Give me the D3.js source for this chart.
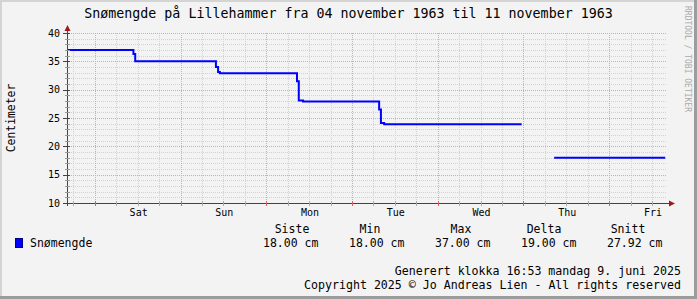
<!DOCTYPE html>
<html>
<head>
<meta charset="utf-8">
<script src="https://cdn.jsdelivr.net/npm/d3@7"></script>
<style>
  body { margin: 0; background: #f3f3f3; }
  svg text { font-family: "DejaVu Sans Mono", monospace; fill: #000; }
</style>
</head>
<body>
<svg id="chart" width="697" height="299"></svg>
<script>
// data (hours since start of graph, cm)
var hours  = [0, 18.6, 19.1, 41.7, 42.3, 42.8, 64.4, 64.9, 66.1, 87.4, 87.9, 88.8, 127.3, 127.4, 136.4, 167.5]
var snow   = [37, 36.3, 35, 34, 33.1, 32.9, 31.5, 28.1, 27.9, 26.5, 24.1, 23.9, 23.9, null, 18, 18]
var dayLabels = ["Sat", "Sun", "Mon", "Tue", "Wed", "Thu", "Fri"]
var firstMidnight = 7.78   // hours after graph start
var yTicks = [10, 15, 20, 25, 30, 35, 40]
var statNames  = ["Siste", "Min", "Max", "Delta", "Snitt"]
var statValues = ["18.00 cm", "18.00 cm", "37.00 cm", "19.00 cm", "27.92 cm"]

var svg = d3.select("#chart")
var W = 697, H = 299
var x = d3.scaleLinear().domain([0, 168]).range([67, 667])
var y = d3.scaleLinear().domain([10, 40]).range([203, 33])

// frame
svg.append("rect").attr("x", 0).attr("y", 0).attr("width", W).attr("height", H).attr("fill", "#f3f3f3")
svg.append("path").attr("d", "M1,299 V1 H697").attr("fill", "none").attr("stroke", "#d4d4d4").attr("stroke-width", 2)
svg.append("path").attr("d", "M0,297.5 H695.5 V0").attr("fill", "none").attr("stroke", "#9c9c9c").attr("stroke-width", 3)

var grid = svg.append("g").attr("shape-rendering", "crispEdges")

// minor horizontal grid every cm
d3.range(11, 40).filter(function(v) { return v % 5 != 0 }).forEach(function(v) {
    grid.append("line").attr("x1", 67).attr("x2", 667)
        .attr("y1", Math.round(y(v)) + 0.5).attr("y2", Math.round(y(v)) + 0.5)
        .attr("stroke", "#d2d2d2").attr("stroke-dasharray", "1,1")
})
// minor vertical grid every 6 hours
var minorHours = d3.range(firstMidnight % 6, 168, 6)
minorHours.forEach(function(h) {
    if (Math.abs((h - firstMidnight) % 24) < 0.01) return
    grid.append("line").attr("y1", 33).attr("y2", 203)
        .attr("x1", Math.round(x(h)) + 0.5).attr("x2", Math.round(x(h)) + 0.5)
        .attr("stroke", "#d2d2d2").attr("stroke-dasharray", "1,1")
})
// major horizontal grid
yTicks.slice(1).forEach(function(v) {
    grid.append("line").attr("x1", 67).attr("x2", 667)
        .attr("y1", Math.round(y(v)) + 0.5).attr("y2", Math.round(y(v)) + 0.5)
        .attr("stroke", "#eda0a0").attr("stroke-dasharray", "1,1")
})
// major vertical grid at midnight
var midnights = d3.range(firstMidnight, 168, 24)
midnights.forEach(function(h) {
    grid.append("line").attr("y1", 33).attr("y2", 203)
        .attr("x1", Math.round(x(h)) + 0.5).attr("x2", Math.round(x(h)) + 0.5)
        .attr("stroke", "#eda0a0").attr("stroke-dasharray", "1,1")
})

// data line
var pts = hours.map(function(h, i) { return {h: h, v: snow[i]} })
var line = d3.line()
    .defined(function(d) { return d.v != null })
    .x(function(d) { return x(d.h) })
    .y(function(d) { return y(d.v) })
    .curve(d3.curveStepAfter)
svg.append("path").datum(pts).attr("d", line)
    .attr("fill", "none").attr("stroke", "#0000ff").attr("stroke-width", 2)

// axes
var ax = svg.append("g").attr("shape-rendering", "crispEdges")
ax.append("line").attr("x1", 67.5).attr("x2", 67.5).attr("y1", 30).attr("y2", 206).attr("stroke", "#4a4040")
ax.append("line").attr("x1", 64).attr("x2", 670).attr("y1", 203.5).attr("y2", 203.5).attr("stroke", "#4a4040")
svg.append("path").attr("d", "M64.5,31 L67.5,25 L70.5,31 Z").attr("fill", "#a01818")
svg.append("path").attr("d", "M669,200.5 L675,203.5 L669,206.5 Z").attr("fill", "#a01818")

// y ticks
d3.range(10, 41).forEach(function(v) {
    var major = v % 5 == 0
    ax.append("line").attr("x1", major ? 63 : 65).attr("x2", 70)
        .attr("y1", Math.round(y(v)) + 0.5).attr("y2", Math.round(y(v)) + 0.5)
        .attr("stroke", major ? "#4a4040" : "#999")
})
// x ticks
minorHours.forEach(function(h) {
    ax.append("line").attr("y1", 201).attr("y2", 206)
        .attr("x1", Math.round(x(h)) + 0.5).attr("x2", Math.round(x(h)) + 0.5)
        .attr("stroke", "#aaa")
})
midnights.forEach(function(h) {
    ax.append("line").attr("y1", 201).attr("y2", 206)
        .attr("x1", Math.round(x(h)) + 0.5).attr("x2", Math.round(x(h)) + 0.5)
        .attr("stroke", "#e06060")
})

// tick labels
yTicks.forEach(function(v) {
    svg.append("text").attr("x", 60).attr("y", y(v) + 3.5)
        .attr("text-anchor", "end").attr("font-size", "10px").text(v)
})
dayLabels.forEach(function(d, i) {
    svg.append("text").attr("x", x(firstMidnight + 12 + 24 * i) + 1).attr("y", 216)
        .attr("text-anchor", "middle").attr("font-size", "10px").text(d)
})

// titles
svg.append("text").attr("x", 348.5).attr("y", 18).attr("text-anchor", "middle")
    .attr("font-size", "13.3px").text("Snømengde på Lillehammer fra 04 november 1963 til 11 november 1963")
svg.append("text").attr("transform", "translate(15,118) rotate(-90)").attr("text-anchor", "middle")
    .attr("font-size", "11.4px").text("Centimeter")
svg.append("text").attr("transform", "translate(685,59) rotate(90)").attr("text-anchor", "middle")
    .attr("font-size", "8px").style("fill", "#aaa").text("RRDTOOL / TOBI OETIKER")

// legend
svg.append("rect").attr("x", 15.5).attr("y", 238.5).attr("width", 7).attr("height", 9)
    .attr("fill", "#0000ff").attr("stroke", "#000080")
svg.append("text").attr("x", 30).attr("y", 247).attr("font-size", "11.5px").text("Snømengde")
var statHead = [292, 370, 461, 544, 628]
statNames.forEach(function(s, i) {
    svg.append("text").attr("x", statHead[i]).attr("y", 233).attr("text-anchor", "middle")
        .attr("font-size", "11.5px").text(s)
})
statValues.forEach(function(s, i) {
    svg.append("text").attr("x", 263 + 86 * i).attr("y", 247)
        .attr("font-size", "11.5px").text(s)
})
svg.append("text").attr("x", 681).attr("y", 275).attr("text-anchor", "end")
    .attr("font-size", "11.6px").text("Generert klokka 16:53 mandag 9. juni 2025")
svg.append("text").attr("x", 681).attr("y", 289).attr("text-anchor", "end")
    .attr("font-size", "11.6px").text("Copyright 2025 © Jo Andreas Lien - All rights reserved")
</script>
</body>
</html>
